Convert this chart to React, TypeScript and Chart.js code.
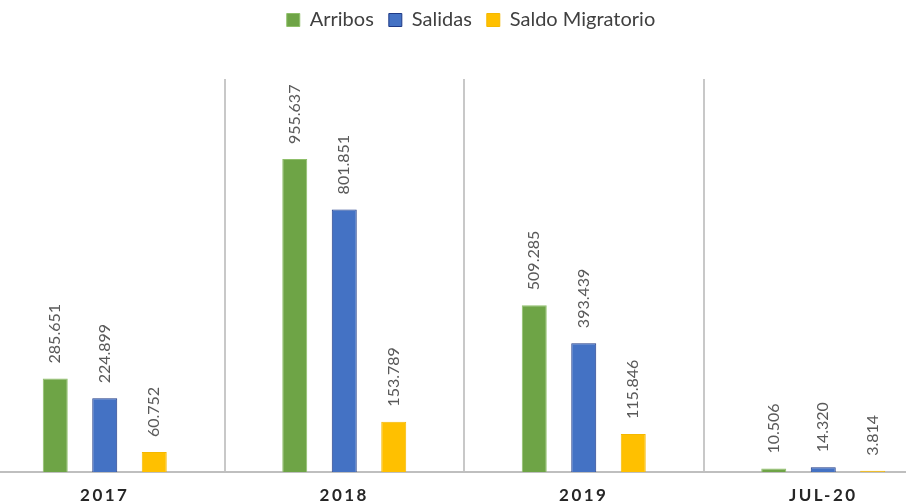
import React, { useEffect, useRef } from "react";
import { Chart, registerables } from "chart.js";

Chart.register(...registerables);

const categories = ["2017", "2018", "2019", "JUL-20"];
const arribos = [285651, 955637, 509285, 10506];
const salidas = [224899, 801851, 393439, 14320];
const saldo = [60752, 153789, 115846, 3814];
const seriesNames = ["Arribos", "Salidas", "Saldo Migratorio"];
const yMax = 1200000;

const fmt = (v: number) => String(Math.round(v)).replace(/\B(?=(\d{3})+(?!\d))/g, ".");

const valueLabels = {
  id: "valueLabels",
  afterDatasetsDraw(chart: any) {
    const ctx = chart.ctx;
    chart.data.datasets.forEach((ds: any, di: number) => {
      const meta = chart.getDatasetMeta(di);
      meta.data.forEach((bar: any, i: number) => {
        ctx.save();
        ctx.translate(bar.x, bar.y - 15);
        ctx.rotate(-Math.PI / 2);
        ctx.textAlign = "left";
        ctx.textBaseline = "middle";
        ctx.fillStyle = "#595959";
        ctx.font = "16px Lato";
        ctx.fillText(fmt(ds.data[i]), 0, 0);
        ctx.restore();
      });
    });
  },
};

const spacedTicks = {
  id: "spacedTicks",
  beforeDraw(chart: any) {
    const s = chart.scales.x;
    if (s && !s.__spaced) {
      const orig = s.drawLabels.bind(s);
      s.drawLabels = (area: any) => {
        const ctx = s.ctx;
        ctx.save();
        ctx.letterSpacing = "2.5px";
        orig(area);
        ctx.restore();
      };
      s.__spaced = true;
    }
  },
};

export default function App() {
  const ref = useRef<HTMLCanvasElement>(null);
  useEffect(() => {
    if (!ref.current) return;
    const chart = new Chart(ref.current, {
      type: "bar",
      data: {
        labels: categories,
        datasets: [
          {
            label: seriesNames[0],
            data: arribos,
            backgroundColor: "#6ea446",
            borderColor: "#8fbf6a",
            borderWidth: 1,
          },
          {
            label: seriesNames[1],
            data: salidas,
            backgroundColor: "#4472c4",
            borderColor: "#1f3a86",
            borderWidth: 1,
          },
          {
            label: seriesNames[2],
            data: saldo,
            backgroundColor: "#ffc000",
            borderColor: "#f5b800",
            borderWidth: 1,
          },
        ],
      },
      options: {
        responsive: false,
        animation: false,
        categoryPercentage: 0.62,
        barPercentage: 0.505,
        layout: { padding: { left: 0, right: 0, top: 0, bottom: 0 } },
        plugins: {
          legend: {
            position: "top",
            labels: {
              boxWidth: 13,
              boxHeight: 13,
              padding: 15,
              color: "#404040",
              font: { family: "Lato", size: 20 },
            },
          },
          title: {
            display: true,
            text: "",
            weight: 500,
            padding: { top: 0, bottom: 27 },
            font: { size: 10 },
          },
          tooltip: { enabled: false },
        },
        scales: {
          x: {
            grid: {
              display: true,
              offset: true,
              drawTicks: false,
              color: "#c8c8c8",
              lineWidth: 2,
            },
            border: { display: true, color: "#bfbfbf", width: 2 },
            ticks: {
              padding: 16,
              color: "#262626",
              font: { family: "Lato", size: 17, weight: "bold", lineHeight: "16px" },
            },
          },
          y: {
            display: true,
            position: "right",
            min: 0,
            max: yMax,
            grid: { display: false },
            border: { display: false },
            ticks: { display: false },
            afterFit: (scale: any) => {
              scale.width = 14;
            },
          },
        },
      },
      plugins: [valueLabels, spacedTicks],
    } as any);
    return () => chart.destroy();
  }, []);
  return (
    <div
      style={{
        position: "fixed",
        left: 0,
        top: 0,
        width: 906,
        height: 504,
        overflow: "hidden",
        background: "#ffffff",
      }}
    >
      <canvas
        ref={ref}
        width={972}
        height={525}
        style={{ position: "absolute", left: -15, top: -5, width: 972, height: 525 }}
      />
    </div>
  );
}
